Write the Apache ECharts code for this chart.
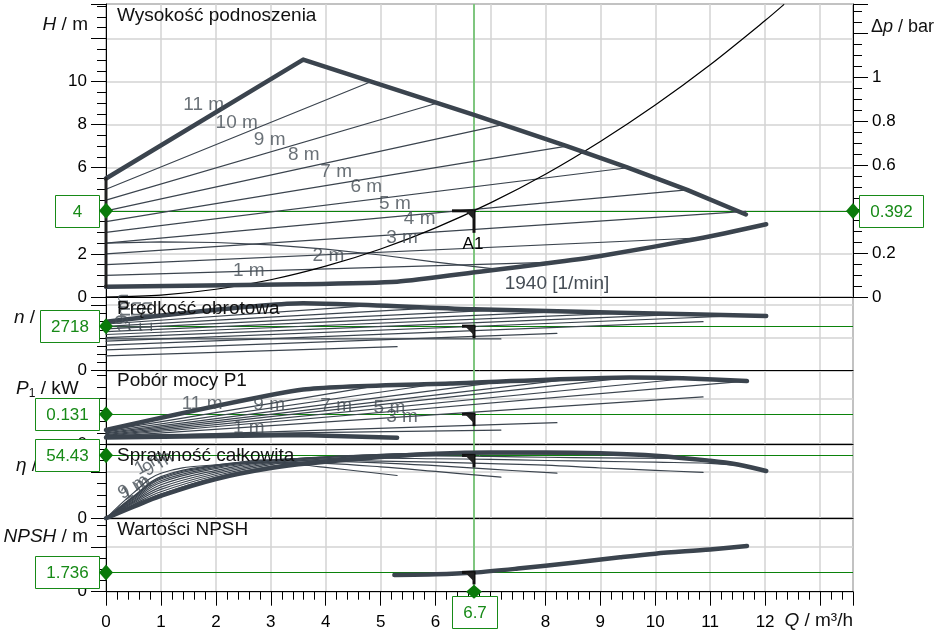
<!DOCTYPE html>
<html><head><meta charset="utf-8">
<script src="https://cdn.jsdelivr.net/npm/echarts@6/dist/echarts.min.js"></script>
<style>html,body{margin:0;padding:0;background:#fff}#c{width:938px;height:632px}</style>
</head><body><div id="c"></div>
<script>
// ================= DATA =================
const qMax = 13.6;
const qOp = 6.7;
const hOp = 4, dpOp = 0.392, nOp = 2718, p1Op = 0.131, etaOp = 54.43, npshOp = 1.736;
const opTexts = { h: '4', dp: '0.392', n: '2718', p1: '0.131', eta: '54.43', npsh: '1.736', q: '6.7' };

// Panel 1: head H [m]
const hMaxCurve = [[0,5.5],[3.59,11.02],[6.7,8.45],[8.39,7.0],[9.5,6.0],[10.58,4.97],[11.65,3.83]];
const hMinCurve = [[0,0.48],[3.5,0.59],[5.3,0.71],[6.8,1.17],[8.21,1.62],[9,1.9],[10.87,2.75],[12.02,3.38]];
const hLeftEdge = [[0,0.48],[0,5.5]];
const hThin = [
  [[0,5.0],[4.81,9.98]],
  [[0,4.5],[5.99,8.97]],
  [[0,4.0],[7.18,7.98]],
  [[0,3.5],[8.39,7.0]],
  [[0,3.0],[9.5,6.0]],
  [[0,2.5],[10.58,4.97]],
  [[0,2.0],[11.65,3.97]],
  [[0,1.5],[10.87,2.75]],
  [[0,1.0],[8.21,1.62]]
];
const h1940 = [[0,2.5],[1,2.56],[2,2.53],[3,2.42],[4,2.22],[5,1.95],[6,1.62],[7.15,1.28]];
const hSystem = [[0,0],[1,0.09],[2,0.36],[3,0.8],[4,1.43],[5,2.23],[6,3.21],[7,4.37],[8,5.7],[9,7.22],[10,8.91],[11,10.78],[12,12.83],[12.34,13.57]];
const hLabels = [[1.78,8.9,'11 m'],[2.38,8.11,'10 m'],[2.98,7.32,'9 m'],[3.6,6.58,'8 m'],[4.19,5.79,'7 m'],[4.74,5.1,'6 m'],[5.26,4.31,'5 m'],[5.71,3.62,'4 m'],[5.39,2.74,'3 m'],[4.05,1.9,'2 m'],[2.6,1.2,'1 m']];

// Panel 2: speed n [1/min]
const nMaxCurve = [[0,2990],[3.59,4115],[6.7,3750],[9.36,3540],[12.02,3340]];
const nThin = [
  [[0,2850],[4.81,3972]],
  [[0,2705],[5.99,3834]],
  [[0,2550],[7.18,3712]],
  [[0,2385],[8.39,3618]],
  [[0,2210],[9.5,3533]],
  [[0,2015],[10.58,3452]],
  [[0,1805],[11.65,3371]],
  [[0,1560],[10.87,2992]],
  [[0,1275],[8.21,2284]],
  [[0,1940],[7.19,1940]],
  [[0,900],[5.3,1465]]
];
const nLabels = [[0.3,3750,'9 m'],[0.35,3300,'1 m'],[0.55,3300,'1 m'],[0.75,3300,'1 m']];

// Panel 3: power P1 [kW]
const pMaxCurve = [[0,0.062],[3.59,0.238],[6.27,0.264],[9.54,0.29],[10.5,0.287],[11.67,0.275]];
const pMinCurve = [[0,0.03],[3.53,0.04],[5.3,0.029]];
const pThin = [
  [[0,0.058],[4.81,0.25]],
  [[0,0.054],[5.99,0.261]],
  [[0,0.05],[7.18,0.271]],
  [[0,0.046],[8.39,0.281]],
  [[0,0.042],[9.5,0.29]],
  [[0,0.039],[10.58,0.286]],
  [[0,0.036],[11.65,0.275]],
  [[0,0.033],[10.87,0.206]],
  [[0,0.031],[8.21,0.094]],
  [[0,0.039],[7.19,0.062]]
];
const pLabels = [[1.75,0.176,'11 m'],[2.97,0.171,'9 m'],[4.19,0.167,'7 m'],[5.16,0.157,'5 m'],[5.39,0.120,'3 m'],[2.6,0.070,'1 m']];

// Panel 4: efficiency eta [%]
const etaMaxCurve = [[0,0],[0.5,10],[1,19.5],[2,34],[3,43.5],[3.9,48.5],[5,53],[6,55.8],[7,56.9],[8,56.9],[9,56.2],[10,54.2],[11,49.8],[11.5,46.5],[12.02,40.9]];
const etaThin = [
  [[0,0],[0.5,11],[1,21],[2,35.5],[3,45],[4,50.5],[4.81,52.5]],
  [[0,0],[0.5,12],[1,23],[2,37],[3,46.5],[4,51.5],[5,54.5],[5.99,55.8]],
  [[0,0],[0.5,13],[1,25],[2,38.5],[3,47.5],[4,52.5],[5,55],[6,56.3],[7.18,56.9]],
  [[0,0],[0.5,14],[1,27],[2,40],[3,48.5],[4,53],[5,55.3],[6,56.3],[7,56.5],[8.39,56.6]],
  [[0,0],[0.5,15],[1,29],[2,41.5],[3,49.5],[4,53.2],[5,55],[6,55.8],[7,55.8],[8,55.5],[9.5,55.2]],
  [[0,0],[0.5,16],[1,31],[2,43],[3,50],[4,53],[5,53.8],[6,54],[7,53.5],[8,52.8],[9,52.2],[10.58,51.8]],
  [[0,0],[0.5,17],[1,32.5],[2,44],[3,50.3],[4,52],[5,52],[6,51.5],[7,51],[8,50],[9,49.3],[10,48.5],[11,47.5],[11.65,44.9]],
  [[0,0],[0.5,18],[1,34],[2,45],[3,50.5],[4,50.5],[5,49.5],[6,48.5],[7,47.3],[8,46],[9,43.5],[10,41.5],[10.87,39.7]],
  [[0,0],[0.5,19],[1,36],[2,46],[3,50],[4,49.5],[5,48],[6,45.5],[7,42.5],[8.21,39]],
  [[0,0],[0.5,18.5],[1,35],[2,45.5],[3,48.5],[4,47.5],[5,44.5],[6,40.5],[7.19,35.6]],
  [[0,0],[0.5,22],[1,39],[2,46.3],[3,48],[3.53,46.3],[4,44],[5.3,37]]
];
const etaLabels = [[0.8,48,'1 m'],[0.95,47,'9 m'],[0.5,27,'9 m'],[0.55,26,'1 m']];

// Panel 5: NPSH [m]
const npshCurve = [[5.25,1.5],[6,1.56],[6.7,1.72],[7.5,2.08],[8.5,2.6],[9.36,3.09],[10,3.42],[11,3.8],[11.67,4.11]];

// ================= STYLE =================
const FONT = '"Liberation Sans", Arial, Helvetica, sans-serif';
const CURVE = '#3b444e';
const LBL = '#454d55';
const GRIDC = '#d3d3d3';
const GTXT = '#178a17';
const GLINE = '#0b820b';
const GV = '#7fc67f';
const BIG = 19;

const ctx = document.createElement('canvas').getContext('2d');
ctx.font = '17px ' + FONT;
const tw = t => ctx.measureText(t).width;

const chart = echarts.init(document.getElementById('c'), null, {renderer: 'canvas', width: 938, height: 632});

const gridDefs = [[4,293],[297,73.7],[370.7,73.6],[444.3,74],[518.3,73.4]];
const grid = gridDefs.map(g => ({left: 106, top: g[0], width: 747, height: g[1], show: true, borderColor: '#222', borderWidth: 1, backgroundColor: 'rgba(0,0,0,0)', containLabel: false, outerBoundsMode: 'none'}));

const near = (v, t) => Math.abs(v - t) < 1e-6;

const xAxis = gridDefs.map((g, i) => {
  const bottom = i === 4;
  return {
    type: 'value', gridIndex: i, min: 0, max: qMax, interval: 1,
    axisLine: {show: true, onZero: false, lineStyle: {color: '#000', width: 1}},
    axisTick: {show: bottom, length: 14, lineStyle: {color: '#000', width: 1}},
    minorTick: {show: bottom, splitNumber: 5, length: 8, lineStyle: {color: '#000', width: 1}},
    axisLabel: {show: bottom, margin: 22, fontSize: 17, color: '#000', fontFamily: FONT, hideOverlap: false,
      formatter: v => (v <= 12 && near(v, Math.round(v))) ? String(Math.round(v)) : ''},
    splitLine: {show: true, lineStyle: {color: GRIDC, width: 1.5}},
    minorSplitLine: {show: false}
  };
});

function yAx(gi, min, max, interval, minorSplit, shown, pos, split) {
  return {
    type: 'value', gridIndex: gi, position: pos || 'left', min, max, interval,
    axisLine: {show: true, onZero: false, lineStyle: {color: '#000', width: 1}},
    axisTick: {show: true, length: 15, lineStyle: {color: '#000', width: 1}},
    minorTick: {show: true, splitNumber: minorSplit, length: 9, lineStyle: {color: '#000', width: 1}},
    axisLabel: {margin: 19, fontSize: 17, color: '#000', fontFamily: FONT, hideOverlap: false,
      formatter: v => { for (const s of shown) if (near(v, s)) return String(s); return ''; }},
    splitLine: {show: split !== false, lineStyle: {color: GRIDC, width: 1.5}},
    minorSplitLine: {show: false}
  };
}
const yAxis = [
  yAx(0, 0, 13.6, 2, 4, [0,2,4,6,8,10]),
  yAx(0, 0, 13.6 * 0.0981, 0.2, 4, [0,0.2,0.4,0.6,0.8,1], 'right', false),
  yAx(1, 0, 4500, 2000, 4, [0]),
  yAx(2, 0, 0.32, 0.2, 4, [0]),
  yAx(3, 0, 64, 40, 4, [0]),
  yAx(4, 0, 6.6, 4, 4, [0])
];
const yIdx = [0, 2, 3, 4, 5];

const series = [];
function line(xi, data, width, color, extra) {
  series.push(Object.assign({type: 'line', xAxisIndex: xi, yAxisIndex: yIdx[xi], data, showSymbol: false, symbol: 'none',
    silent: true, animation: false, z: 5,
    lineStyle: {color: color || CURVE, width: width || 1.2, cap: 'round', join: 'round'}}, extra || {}));
}
function labels(xi, arr, rot) {
  series.push({type: 'scatter', xAxisIndex: xi, yAxisIndex: yIdx[xi], symbolSize: 0, silent: true, animation: false, z: 8,
    data: arr.map(a => ({value: [a[0], a[1]], label: {show: true, position: 'inside', formatter: a[2], color: LBL,
      fontSize: BIG, fontFamily: FONT, rotate: a[3] || rot || 0}}))});
}
function opLines(xi, val) {
  series.push({type: 'line', xAxisIndex: xi, yAxisIndex: yIdx[xi], data: [], silent: true, animation: false, z: 4,
    markLine: {silent: true, symbol: ['none','none'], animation: false, label: {show: false},
      data: [
        {xAxis: qOp, lineStyle: {color: GV, width: 2, type: 'solid'}},
        {yAxis: val, lineStyle: {color: GLINE, width: 1, type: 'solid'}}
      ]}});
}
function opMarker(xi, val, arm, label) {
  series.push({type: 'custom', xAxisIndex: xi, yAxisIndex: yIdx[xi], clip: false, silent: true, animation: false, z: 15,
    data: [[qOp, val]],
    renderItem: (params, api) => {
      const p = api.coord([api.value(0), api.value(1)]);
      const x = p[0], y = p[1];
      const ch = [
        {type: 'line', shape: {x1: x - arm, y1: y, x2: x + 1.5, y2: y}, style: {stroke: '#111', lineWidth: 3}},
        {type: 'line', shape: {x1: x, y1: y, x2: x, y2: y + arm}, style: {stroke: '#111', lineWidth: 3}},
        {type: 'polygon', shape: {points: [[x - 9, y], [x, y], [x, y + 9]]}, style: {fill: '#222'}}
      ];
      if (label) ch.push({type: 'text', style: {text: label, x: x - 1, y: y + 33, align: 'center', verticalAlign: 'middle', fill: '#000', font: '17px ' + FONT}});
      return {type: 'group', children: ch};
    }});
}
function opBox(xi, yi, xv, yv, text, side) {
  series.push({type: 'custom', xAxisIndex: xi, yAxisIndex: yi, clip: false, silent: true, animation: false, z: 30,
    data: [[xv, yv]],
    renderItem: (params, api) => {
      const p = api.coord([api.value(0), api.value(1)]);
      const w = Math.round(Math.max(44, tw(text) + 21)), h = 32;
      let bx, by, pts;
      if (side === 'left') { bx = p[0] - 7 - w; by = p[1] - h / 2; pts = [[p[0]-7,p[1]],[p[0],p[1]-8],[p[0]+7,p[1]],[p[0],p[1]+8]]; }
      else if (side === 'right') { bx = p[0] + 6; by = p[1] - h / 2; pts = [[p[0]-7,p[1]],[p[0],p[1]-8],[p[0]+7,p[1]],[p[0],p[1]+8]]; }
      else { bx = p[0] - w / 2; by = p[1] + 4.5; pts = [[p[0]-8,p[1]],[p[0],p[1]-7],[p[0]+8,p[1]],[p[0],p[1]+7]]; }
      bx = Math.round(bx) + 0.5; by = Math.round(by) + 0.5;
      return {type: 'group', children: [
        {type: 'rect', shape: {x: bx, y: by, width: w, height: h}, style: {fill: '#fff', stroke: GTXT, lineWidth: 1}},
        {type: 'text', style: {text, x: bx + w / 2, y: by + h / 2 + 1, align: 'center', verticalAlign: 'middle', fill: GTXT, font: '17px ' + FONT}},
        {type: 'polygon', shape: {points: pts}, style: {fill: '#0a7a0a'}}
      ]};
    }});
}

// ---- panel 1 ----
opLines(0, hOp);
hThin.forEach(d => line(0, d, 1.2));
line(0, h1940, 1.2, CURVE, {endLabel: {show: true, formatter: '1940 [1/min]', color: LBL, fontSize: BIG, fontFamily: FONT, distance: 6, offset: [0, 14]}});
line(0, hSystem, 1.2, '#000', {smooth: 0.3});
line(0, hMaxCurve, 4.5);
line(0, hMinCurve, 4.5, CURVE, {smooth: 0.2});
line(0, hLeftEdge, 3, '#222');
labels(0, hLabels);
opMarker(0, hOp, 22, 'A1');

// ---- panel 2 ----
opLines(1, nOp);
nThin.forEach(d => line(1, d, 1.2));
line(1, nMaxCurve, 4.5, CURVE, {smooth: 0.2});
labels(1, nLabels, 90);
opMarker(1, nOp, 12);

// ---- panel 3 ----
opLines(2, p1Op);
pThin.forEach(d => line(2, d, 1.2));
line(2, pMaxCurve, 4.5, CURVE, {smooth: 0.2});
line(2, pMinCurve, 4.5);
labels(2, pLabels);
opMarker(2, p1Op, 12);

// ---- panel 4 ----
opLines(3, etaOp);
etaThin.forEach(d => line(3, d, 1.2, CURVE, {smooth: 0.4}));
line(3, etaMaxCurve, 4.5, CURVE, {smooth: 0.4});
labels(3, etaLabels, 30);
opMarker(3, etaOp, 12);

// ---- panel 5 ----
opLines(4, npshOp);
line(4, npshCurve, 4.5, CURVE, {smooth: 0.3});
opMarker(4, npshOp, 12);

// ---- boxes ----
opBox(0, 0, 0, hOp, opTexts.h, 'left');
opBox(0, 1, qMax, dpOp, opTexts.dp, 'right');
opBox(1, 2, 0, nOp, opTexts.n, 'left');
opBox(2, 3, 0, p1Op, opTexts.p1, 'left');
opBox(3, 4, 0, etaOp, opTexts.eta, 'left');
opBox(4, 5, 0, npshOp, opTexts.npsh, 'left');
opBox(4, 5, qOp, 0, opTexts.q, 'bottom');

// ---- texts ----
function mkRich(fs) {
  const base = {fontSize: fs, fontFamily: FONT};
  return {
    i: Object.assign({fontStyle: 'italic'}, base),
    n: Object.assign({}, base),
    s: {fontSize: 12, fontFamily: FONT, padding: [10, 0, 0, 0]}
  };
}
function gtext(x, y, text, align, fs, z) {
  fs = fs || BIG;
  return {type: 'text', x, y, silent: true, z: z === undefined ? 100 : z, zlevel: 0,
    style: {text, fontSize: fs, fontFamily: FONT, fill: '#111', align: align || 'left', verticalAlign: 'middle', rich: mkRich(fs)}};
}
const graphic = [
  gtext(117, 16, 'Wysokość podnoszenia'),
  gtext(117, 309, 'Prędkość obrotowa'),
  gtext(117, 381, 'Pobór mocy P1'),
  gtext(117, 456, 'Sprawność całkowita'),
  gtext(117, 530, 'Wartości NPSH'),
  gtext(88, 25, '{i|H}{n| / m}', 'right', BIG, 0),
  gtext(871, 27, '{n|Δ}{i|p}{n| / bar}', 'left', 18, 0),
  gtext(14, 318, '{i|n}{n| / 1/min}', 'left', BIG, 0),
  gtext(16, 389, '{i|P}{s|1}{n| / kW}', 'left', BIG, 0),
  gtext(16, 466, '{i|η}{n| / %}', 'left', BIG, 0),
  gtext(88, 537, '{i|NPSH}{n| / m}', 'right', BIG, 0),
  gtext(853, 621, '{i|Q}{n| / m³/h}', 'right', BIG, 0)
];

chart.setOption({animation: false, grid, xAxis, yAxis, series, graphic});
</script>
</body></html>
